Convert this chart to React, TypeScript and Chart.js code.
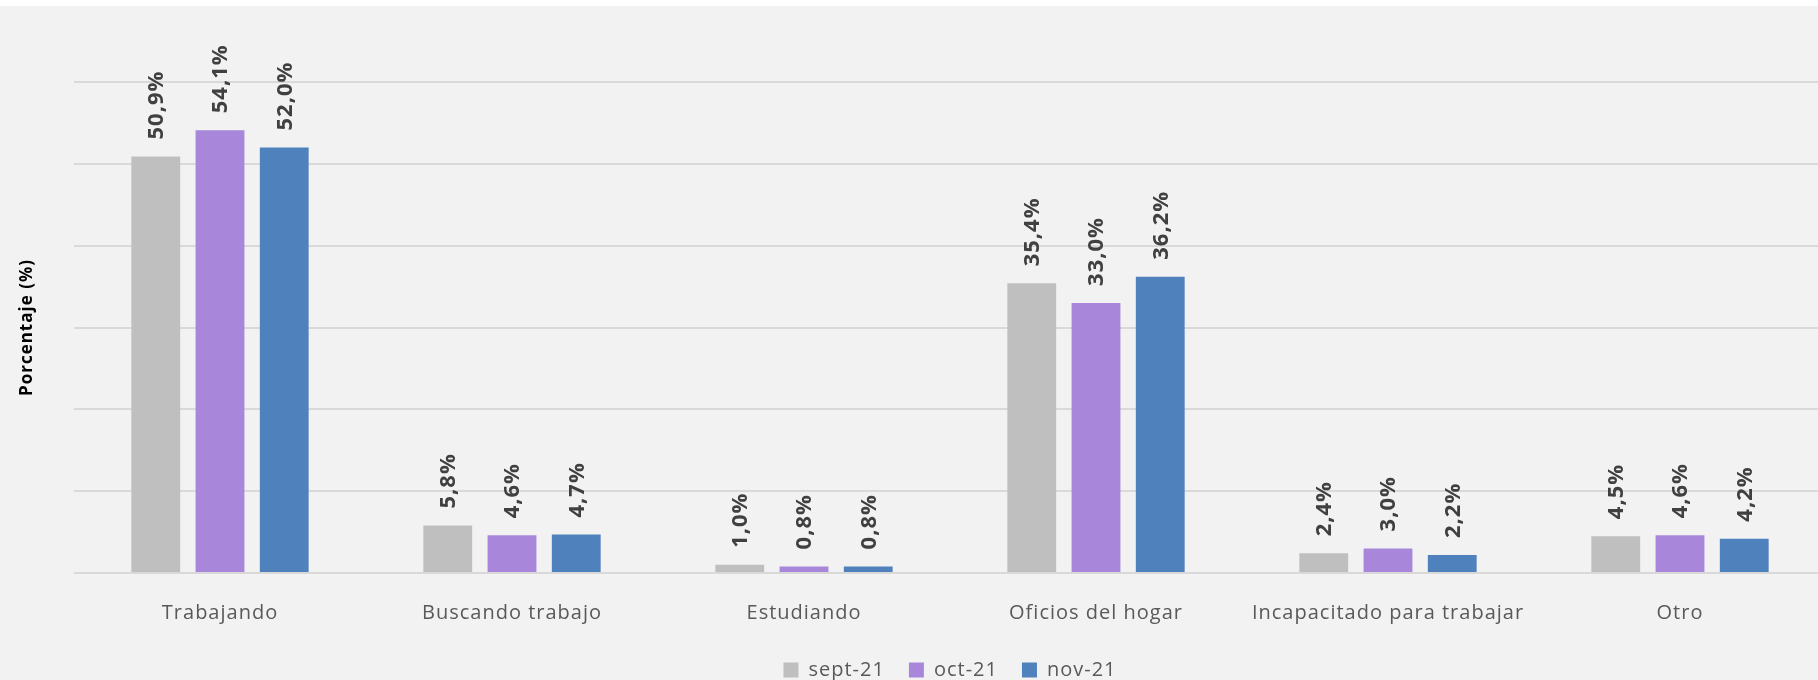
import React, { useEffect, useRef } from 'react';
import { Chart, registerables } from 'chart.js';
Chart.register(...registerables);

const categories = ['Trabajando', 'Buscando trabajo', 'Estudiando', 'Oficios del hogar', 'Incapacitado para trabajar', 'Otro'];
const seriesNames = ['sept-21', 'oct-21', 'nov-21'];
const sept21 = [50.9, 5.8, 1.0, 35.4, 2.4, 4.5];
const oct21 = [54.1, 4.6, 0.8, 33.0, 3.0, 4.6];
const nov21 = [52.0, 4.7, 0.8, 36.2, 2.2, 4.2];
const seriesColors = ['#bfbfbf', '#a886d9', '#4f81bd'];
const yMin = 0;
const yMax = 60;
const yStep = 10;
const yTitle = 'Porcentaje (%)';

const FONT = "'Open Sans', 'Noto Sans', sans-serif";
const CANVAS_W = 1826;
const CANVAS_H = 684;

const fmt = (v: number) => v.toFixed(1).replace('.', ',') + '%';

const spacingPlugin = {
  id: 'spacing',
  beforeUpdate(chart: any) { chart.ctx.letterSpacing = '1px'; },
  beforeLayout(chart: any) { chart.ctx.letterSpacing = '1px'; },
  beforeDraw(chart: any) { chart.ctx.letterSpacing = '1px'; },
  afterLayout(chart: any) {
    if (chart.legend) {
      chart.legend.left = chart.chartArea.left;
      chart.legend.right = chart.chartArea.right;
    }
  },
};

const valueLabelPlugin = {
  id: 'valueLabels',
  afterDatasetsDraw(chart: any) {
    const ctx = chart.ctx;
    chart.data.datasets.forEach((ds: any, di: number) => {
      const meta = chart.getDatasetMeta(di);
      meta.data.forEach((el: any, i: number) => {
        const v = ds.data[i];
        ctx.save();
        ctx.letterSpacing = '1px';
        ctx.font = `bold 22px ${FONT}`;
        ctx.fillStyle = '#404040';
        ctx.textAlign = 'left';
        ctx.textBaseline = 'middle';
        ctx.translate(el.x + 1, el.y - 17);
        ctx.rotate(-Math.PI / 2);
        ctx.fillText(fmt(v), 0, 0);
        ctx.restore();
      });
    });
  },
};

export default function App() {
  const ref = useRef<HTMLCanvasElement>(null);
  useEffect(() => {
    if (!ref.current) return;
    const series = [sept21, oct21, nov21];
    const chart = new Chart(ref.current, {
      type: 'bar',
      data: {
        labels: categories,
        datasets: series.map((d, i) => ({
          label: seriesNames[i],
          data: d,
          backgroundColor: seriesColors[i],
          borderWidth: 0,
          categoryPercentage: 0.66,
          barPercentage: 0.76,
        })),
      },
      options: {
        responsive: false,
        animation: false,
        layout: { padding: { left: 0, right: 0, top: 76, bottom: 0 } },
        plugins: {
          tooltip: { enabled: false },
          legend: {
            position: 'bottom',
            align: 'center',
            labels: {
              boxWidth: 15,
              boxHeight: 15,
              padding: 24,
              color: '#595959',
              font: { family: FONT, size: 20 },
            },
          },
        },
        scales: {
          x: {
            grid: { display: false },
            border: { display: false },
            ticks: { color: '#595959', font: { family: FONT, size: 20 }, padding: 20, maxRotation: 0, autoSkip: false },
            afterFit: (s: any) => { s.height = 63; },
          },
          y: {
            min: yMin,
            max: yMax,
            ticks: { display: false, stepSize: yStep },
            grid: { color: '#d9d9d9', lineWidth: 2, drawTicks: false },
            border: { display: false },
            title: {
              display: true,
              text: yTitle,
              color: '#000000',
              font: { family: FONT, size: 17, weight: 'bold' },
              padding: { top: 17, bottom: 36 },
            },
            afterFit: (s: any) => { s.width = 74; },
          },
        },
      },
      plugins: [spacingPlugin, valueLabelPlugin],
    } as any);
    return () => chart.destroy();
  }, []);
  return (
    <div style={{ position: 'fixed', left: 0, top: 0, width: 1818, height: 680, overflow: 'hidden', background: '#ffffff' }}>
      <canvas
        ref={ref}
        width={CANVAS_W}
        height={CANVAS_H}
        style={{ position: 'absolute', left: 0, top: 6, width: CANVAS_W, height: CANVAS_H, background: '#f2f2f2' }}
      />
    </div>
  );
}
